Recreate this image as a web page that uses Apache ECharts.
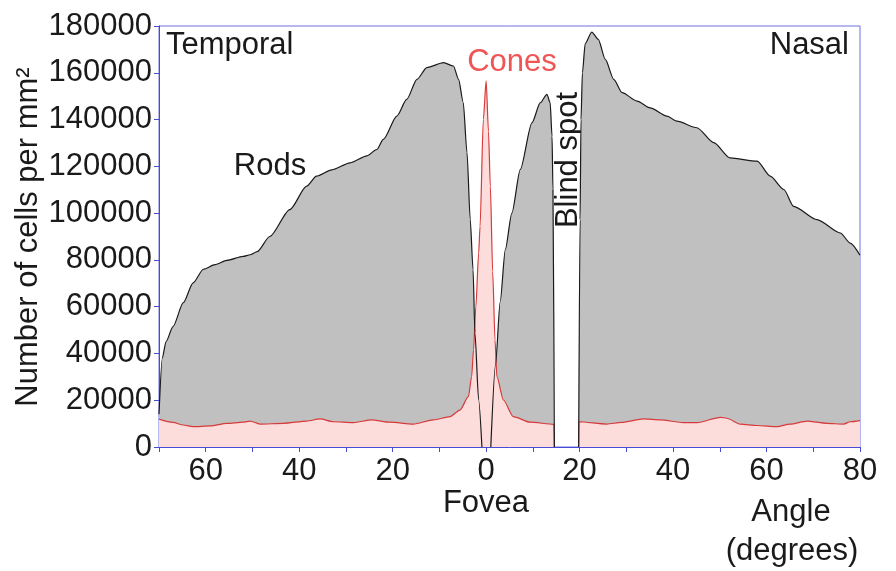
<!DOCTYPE html>
<html><head><meta charset="utf-8">
<script src="https://cdn.jsdelivr.net/npm/echarts@6/dist/echarts.min.js"></script>
<style>html,body{margin:0;padding:0;background:#fff}#c{width:896px;height:571px}</style>
</head><body><div id="c"></div>
<script>
// Angle in degrees (negative = temporal side), value = cells per mm²
const rods = [
  [-70,14000],[-69.3,38000],[-68.5,45000],[-67,51500],[-64.8,61700],[-62.7,70200],[-60.5,76000],
  [-58,78000],[-55.5,79800],[-52,81500],[-50.5,82200],[-49,83500],[-46.3,90000],[-42,101500],
  [-38.4,111500],[-36.3,115800],[-33,118500],[-29.1,121500],[-25.5,124500],[-23.4,127200],
  [-22,131500],[-19.1,141500],[-17,148600],[-14.8,157200],[-12.7,162200],[-9.1,164300],
  [-7,162900],[-5.9,157200],[-4.9,147300],[-4.1,126000],[-3.4,97200],[-2.8,75800],[-2.4,48800],
  [-1.6,20100],[-0.9,0],[0,'-'],[1.0,0],[2.0,35000],[3.0,62000],[4.1,84400],[5.5,100000],
  [7.3,118600],[9.8,138600],[11.6,147200],[13,150800],[13.7,147200],[14.1,132900],[14.3,110000],
  [14.6,0],[17,'-'],[19.8,0],[20.1,97200],[20.3,140000],[20.6,160000],[21.2,172500],[22.6,177400],
  [24,174300],[25.5,165700],[27.3,157200],[29.1,151500],[32.3,147900],[35.1,145000],[38.7,141500],
  [40.8,139300],[45.1,136500],[48.7,130100],[52.2,123600],[58,122200],[60.8,115800],[63.7,110100],
  [65.8,102900],[70.8,97200],[75.8,91500],[77.9,87200],[80,82000]
];
const cones = [
  [-70,11900],[-67,10500],[-64.8,9400],[-62.7,8700],[-59,9000],[-55.5,10100],[-52,10600],
  [-50.5,11100],[-48.4,9800],[-43.4,10100],[-38.4,11100],[-35.5,12000],[-32.7,10800],
  [-28.4,10400],[-24.5,11600],[-20.6,10600],[-15.6,9800],[-11.3,11600],[-7.7,13000],[-5.6,15800],
  [-3.8,21500],[-3.1,30100],[-2.7,41500],[-2.2,60000],[-1.6,83000],[-1.3,94300],[-0.6,140000],
  [0,156500],[0.5,135000],[0.9,111500],[1.4,75000],[1.9,45800],[2.3,30100],[3.7,20100],
  [5.8,13000],[9.4,10600],[14.5,9700],[14.6,0],[17,'-'],[19.8,0],[19.85,10800],[25.8,9800],
  [29,10500],[33.7,12000],[37.3,11600],[42.2,10400],[45.1,10400],[50.1,12700],[51.5,12300],
  [54.4,9800],[58,9200],[62.2,8700],[65,9800],[68.7,11100],[72.9,10100],[76.5,9800],
  [77.9,10800],[80,11300]
];
const xTickStep = 10, xLabelStep = 20;
const yTickStep = 20000;
const labels = {
  temporal: 'Temporal', nasal: 'Nasal', rods: 'Rods', cones: 'Cones',
  blind: 'Blind spot', fovea: 'Fovea', angle: 'Angle', degrees: '(degrees)',
  yName: 'Number of cells per mm\u00B2'
};

const FONT = '"Liberation Sans", Arial, sans-serif';
const AX = '#4a4ad8';
const chart = echarts.init(document.getElementById('c'), null, {renderer: 'canvas'});
const txt = (text, x, y, opts) => Object.assign({
  type: 'text', x: x, y: y,
  style: Object.assign({text: text, font: '31px ' + FONT, fill: '#1a1a1a', align: 'center', verticalAlign: 'middle'}, opts || {})
});
chart.setOption({
  animation: false,
  grid: {left: 159, right: 36, top: 26, bottom: 124, show: true, borderColor: '#7070e0', borderWidth: 1, backgroundColor: 'transparent'},
  xAxis: {
    type: 'value', min: -70, max: 80, interval: xTickStep,
    axisLine: {show: true, onZero: false, lineStyle: {color: AX, width: 1}},
    axisTick: {show: true, length: 5, inside: false, lineStyle: {color: AX}},
    axisLabel: {fontFamily: FONT, fontSize: 31, color: '#1a1a1a', margin: 9,
      formatter: v => (v % xLabelStep === 0 ? String(Math.abs(v)) : '')},
    splitLine: {show: false}
  },
  yAxis: {
    type: 'value', min: 0, max: 180000, interval: yTickStep,
    axisLine: {show: true, onZero: false, lineStyle: {color: AX, width: 1}},
    axisTick: {show: true, length: 5, inside: false, lineStyle: {color: AX}},
    axisLabel: {fontFamily: FONT, fontSize: 31, color: '#1a1a1a', margin: 7, formatter: v => String(v)},
    splitLine: {show: false}
  },
  series: [
    {type: 'line', name: 'Rods', data: rods, showSymbol: false, smooth: 0.25, smoothMonotone: 'x',
      connectNulls: false, z: 1, lineStyle: {width: 0, color: '#000'}, areaStyle: {color: '#c0c0c0', opacity: 1}},
    {type: 'line', name: 'Cones', data: cones, showSymbol: false, smooth: 0.25, smoothMonotone: 'x',
      connectNulls: false, z: 2, lineStyle: {width: 1.2, color: '#d63a3a'}, areaStyle: {color: '#fddcdc', opacity: 1}},
    {type: 'line', name: 'RodsLine', data: rods, showSymbol: false, smooth: 0.25, smoothMonotone: 'x',
      connectNulls: false, z: 3, lineStyle: {width: 1.2, color: '#1a1a1a'}}
  ],
  graphic: [
    txt(labels.temporal, 166, 45, {align: 'left'}),
    txt(labels.nasal, 849, 45, {align: 'right'}),
    txt(labels.rods, 270, 166),
    txt(labels.cones, 512, 62, {fill: '#f05555'}),
    Object.assign(txt(labels.blind, 568, 160), {rotation: Math.PI / 2}),
    txt(labels.fovea, 486, 503),
    txt(labels.angle, 791, 512),
    txt(labels.degrees, 792, 551),
    Object.assign(txt(labels.yName, 28, 237), {rotation: Math.PI / 2})
  ]
});
</script></body></html>
